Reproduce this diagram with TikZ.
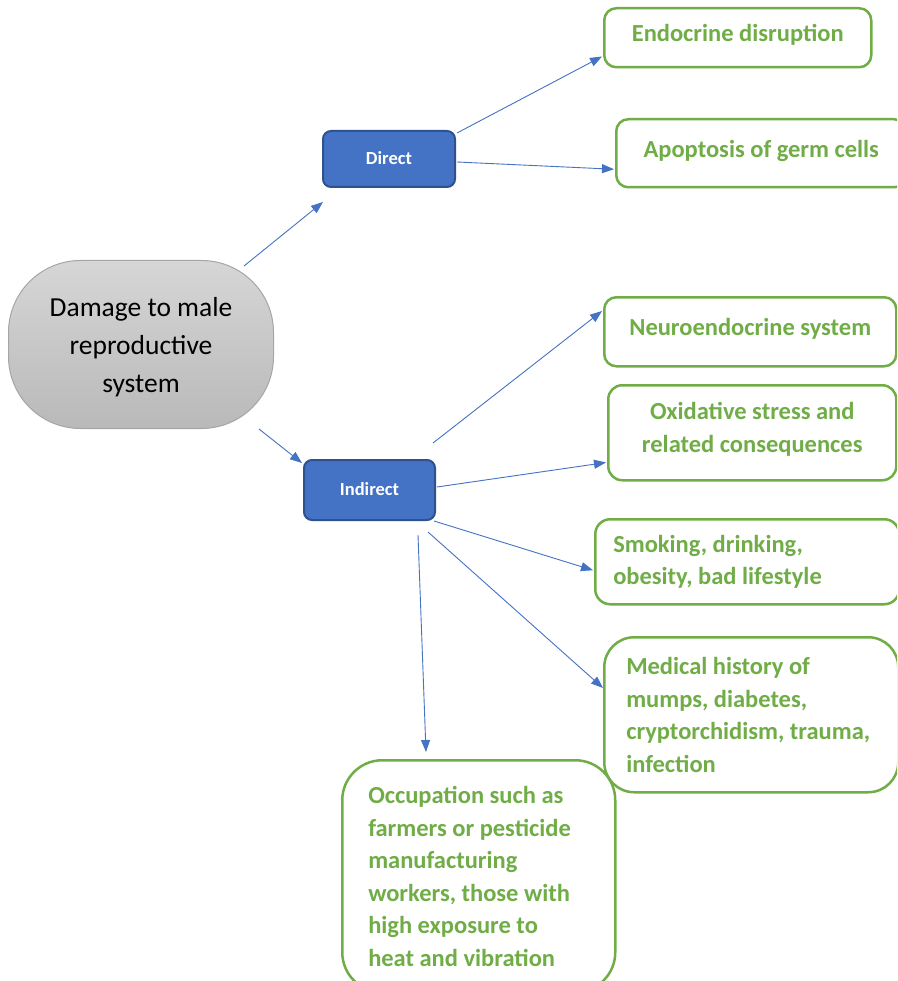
\documentclass[tikz,border=0pt]{standalone}
\usepackage{fontspec}
\setmainfont{Carlito}
\usetikzlibrary{arrows.meta,calc}
\definecolor{arrowblue}{HTML}{4472C4}
\definecolor{boxblue}{HTML}{4472C4}
\definecolor{boxblueedge}{HTML}{2F528F}
\definecolor{leafgreen}{HTML}{70AD47}
\definecolor{grayedge}{HTML}{A6A6A6}
\definecolor{graytop}{HTML}{D6D6D6}
\definecolor{graybot}{HTML}{B9B9B9}
\begin{document}
\begin{tikzpicture}[x=1pt,y=-1pt,
  arr/.style={draw=arrowblue, line width=0.9pt, -{Triangle[length=12pt,width=9pt]}},
  leaf/.style={draw=leafgreen, line width=2.5pt, rounded corners=12pt, text=leafgreen,
    font=\fontsize{24.5}{32.5}\selectfont\bfseries, anchor=north west, inner sep=0pt},
  oneline/.style={text height=18pt, text depth=10pt},
  midbox/.style={draw=boxblueedge, fill=boxblue, line width=2pt, rounded corners=8pt,
    text=white, font=\fontsize{18.5}{22}\selectfont\bfseries, anchor=north west, inner sep=0pt},
]
\clip (0,0) rectangle (897,981);
\fill[white] (0,0) rectangle (897,981);

% root
\node[draw=grayedge, line width=1pt, top color=graytop, bottom color=graybot,
      rounded corners=72pt, minimum width=265pt, minimum height=168pt, anchor=north west,
      align=center, inner sep=0pt, text depth=0pt, font=\fontsize{27.5}{38}\selectfont] (gray) at (8,260)
      {Damage to male\\reproductive\\system};

% middle boxes
\node[midbox, minimum width=132pt, minimum height=56pt, text depth=2pt] (direct) at (322,130) {Direct};
\node[midbox, minimum width=131pt, minimum height=60pt, text depth=2pt] (indirect) at (303,459) {Indirect};

% leaves
\node[leaf, oneline, minimum width=267pt, minimum height=59pt] (endo) at (603,7) {Endocrine disruption};
\node[leaf, oneline, minimum width=290pt, minimum height=68pt] (apop) at (615,118) {Apoptosis of germ cells};
\node[leaf, oneline, minimum width=292pt, minimum height=69pt] (neuro) at (603,296) {Neuroendocrine system};
\node[leaf, rounded corners=14pt, minimum width=288pt, minimum height=95pt, align=center, text depth=11pt] (oxi) at (607,384)
      {Oxidative stress and\\related consequences};
\node[leaf, rounded corners=15pt, minimum height=85pt, align=flush left, text width=268pt, inner xsep=18pt] (smoke) at (594,518)
      {Smoking, drinking,\\obesity, bad lifestyle};
\node[leaf, rounded corners=30pt, minimum height=155pt, align=flush left, text width=250pt, inner xsep=22pt] (medical) at (603,636)
      {Medical history of\\mumps, diabetes,\\cryptorchidism, trauma,\\infection};
\node[leaf, rounded corners=40pt, minimum height=232pt, align=flush left, text width=221pt, inner xsep=26pt] (occ) at (341,759)
      {Occupation such as\\farmers or pesticide\\manufacturing\\workers, those with\\high exposure to\\heat and vibration};

% connectors
\draw[arr] ([shift={(-30,6)}]gray.north east) -- ([shift={(1,14)}]direct.south west);
\draw[arr] ([shift={(-15,0)}]gray.south east) -- ([shift={(-1,4)}]indirect.north west);
\draw[arr] ([shift={(1,3)}]direct.north east) -- ([shift={(-1,-12)}]endo.south west);
\draw[arr] ([shift={(1,3)}]direct.east) -- ([shift={(-1,16)}]apop.west);
\draw[arr] ([shift={(-3,-16)}]indirect.north east) -- ([shift={(-1,15)}]neuro.north west);
\draw[arr] ([shift={(1,-3)}]indirect.east) -- ([shift={(-1,-19)}]oxi.south west);
\draw[arr] ([shift={(-2,0)}]indirect.south east) -- ([shift={(-1,8.5)}]smoke.west);
\draw[arr] ([shift={(-8,11)}]indirect.south east) -- ([shift={(0,52)}]medical.north west);
\draw[arr] ([shift={(-18,14)}]indirect.south east) -- ([shift={(85,-7)}]occ.north west);
\end{tikzpicture}
\end{document}
